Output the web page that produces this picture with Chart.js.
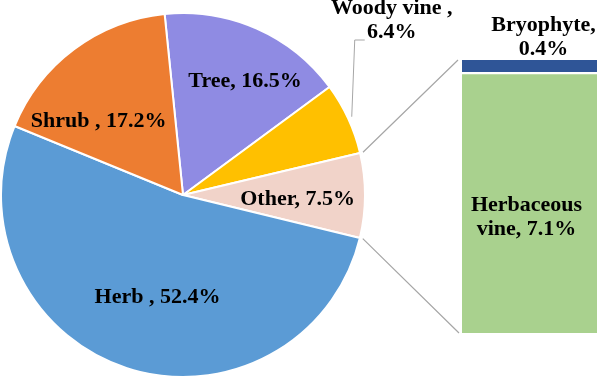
<!DOCTYPE html>
<html>
<head>
<meta charset="utf-8">
<script src="https://cdn.jsdelivr.net/npm/chart.js@4.4.1/dist/chart.umd.min.js"></script>
<style>
  html, body { margin: 0; padding: 0; background: #fff; }
  #wrap { position: relative; width: 597px; height: 380px; overflow: hidden; }
  canvas { position: absolute; left: 0; top: 0; }
</style>
</head>
<body>
<div id="wrap">
  <canvas id="pie" width="597" height="380"></canvas>
  <canvas id="bar" width="597" height="380"></canvas>
</div>
<script>
// ---- data ----
const pieCategories = ['Tree', 'Woody vine', 'Other', 'Herb', 'Shrub'];
const pieValues = [16.5, 6.4, 7.5, 52.4, 17.2];
const pieLabelText = [['Tree, 16.5%'], ['Woody vine ,', '6.4%'], ['Other, 7.5%'], ['Herb , 52.4%'], ['Shrub , 17.2%']];
const barCategories = ['Herbaceous vine', 'Bryophyte'];
const barValues = [7.1, 0.4];
const barLabelText = [['Herbaceous', 'vine, 7.1%'], ['Bryophyte,', '0.4%']];
const otherTotal = 7.5;

// ---- styles ----
const pieColors = ['#8F8BE3', '#FFC000', '#F1D3C9', '#5B9BD5', '#ED7D31'];
const barColors = ['#A9D18E', '#2F5597'];
const FONT = "bold 22px 'Times New Roman', 'Liberation Serif', serif";
const LINE_H = 24;
const lineColor = '#A6A6A6';

function drawLines(ctx, lines, cx, cy) {
  ctx.save();
  ctx.font = FONT;
  ctx.fillStyle = '#000';
  ctx.textAlign = 'center';
  ctx.textBaseline = 'middle';
  const n = lines.length;
  lines.forEach((t, i) => {
    ctx.fillText(t, cx, cy + (i - (n - 1) / 2) * LINE_H);
  });
  ctx.restore();
}
function polar(el, deg, r) {
  const a = (deg - 90) * Math.PI / 180;
  return { x: el.x + r * Math.cos(a), y: el.y + r * Math.sin(a) };
}

// inside labels: polar placement (deg clockwise from top, fraction of radius)
const pieLabelPos = [
  { deg: 28.7, f: 0.71 },
  null,
  { deg: 92, f: 0.63 },
  { deg: 194, f: 0.58 },
  { deg: 311, f: 0.615 }
];

const pieLabelPlugin = {
  id: 'pieLabels',
  afterDatasetsDraw(chart) {
    const ctx = chart.ctx;
    const arcs = chart.getDatasetMeta(0).data;
    arcs.forEach((el, i) => {
      const pos = pieLabelPos[i];
      if (pos) {
        const p = polar(el, pos.deg, el.outerRadius * pos.f);
        drawLines(ctx, pieLabelText[i], p.x, p.y);
      } else {
        const midDeg = ((el.startAngle + el.endAngle) / 2) * 180 / Math.PI + 90;
        const s = polar(el, midDeg, el.outerRadius + 4);
        const elbow = { x: s.x + 3, y: 40 };
        const end = { x: elbow.x + 10, y: 40 };
        ctx.save();
        ctx.strokeStyle = lineColor;
        ctx.lineWidth = 1;
        ctx.beginPath();
        ctx.moveTo(s.x, s.y);
        ctx.lineTo(elbow.x, elbow.y);
        ctx.lineTo(end.x, end.y);
        ctx.stroke();
        ctx.restore();
        drawLines(ctx, pieLabelText[i], end.x + 27, 20);
      }
    });
  }
};

const pieChart = new Chart(document.getElementById('pie'), {
  type: 'pie',
  data: {
    labels: pieCategories,
    datasets: [{
      data: pieValues,
      backgroundColor: pieColors,
      borderColor: '#ffffff',
      borderWidth: 2
    }]
  },
  options: {
    responsive: false,
    animation: false,
    rotation: -5.8,
    layout: { padding: { left: 0, top: 12, right: 231, bottom: 2 } },
    plugins: { legend: { display: false }, tooltip: { enabled: false } }
  },
  plugins: [pieLabelPlugin]
});

const barExtrasPlugin = {
  id: 'barExtras',
  afterDatasetsDraw(chart) {
    const ctx = chart.ctx;
    const bottomEl = chart.getDatasetMeta(0).data[0];
    const topEl = chart.getDatasetMeta(1).data[0];
    const left = bottomEl.x - bottomEl.width / 2;
    const cx = bottomEl.x;
    const other = pieChart.getDatasetMeta(0).data[2];
    const sDeg = other.startAngle * 180 / Math.PI + 90;
    const eDeg = other.endAngle * 180 / Math.PI + 90;
    const p1 = polar(other, sDeg, other.outerRadius + 3);
    const p2 = polar(other, eDeg, other.outerRadius + 3);
    ctx.save();
    ctx.strokeStyle = lineColor;
    ctx.lineWidth = 1.2;
    ctx.beginPath();
    ctx.moveTo(p1.x, p1.y);
    ctx.lineTo(left - 4, topEl.y);
    ctx.moveTo(p2.x, p2.y);
    ctx.lineTo(left - 3, bottomEl.base);
    ctx.stroke();
    ctx.restore();
    drawLines(ctx, barLabelText[0], cx - 3, bottomEl.y + 143);
    drawLines(ctx, barLabelText[1], cx + 14, topEl.y - 23);
  }
};

new Chart(document.getElementById('bar'), {
  type: 'bar',
  data: {
    labels: [''],
    datasets: [
      { label: barCategories[0], data: [barValues[0]], backgroundColor: barColors[0], borderWidth: 0 },
      { label: barCategories[1], data: [barValues[1]], backgroundColor: barColors[1],
        borderColor: '#ffffff', borderWidth: { top: 0, right: 0, bottom: 3, left: 0 }, borderSkipped: false }
    ]
  },
  options: {
    responsive: false,
    animation: false,
    layout: { padding: { left: 462, top: 60, right: 0, bottom: 47 } },
    datasets: { bar: { categoryPercentage: 1, barPercentage: 1 } },
    scales: {
      x: { stacked: true, display: false },
      y: { stacked: true, display: false, min: 0, max: otherTotal }
    },
    plugins: { legend: { display: false }, tooltip: { enabled: false } }
  },
  plugins: [barExtrasPlugin]
});
</script>
</body>
</html>
